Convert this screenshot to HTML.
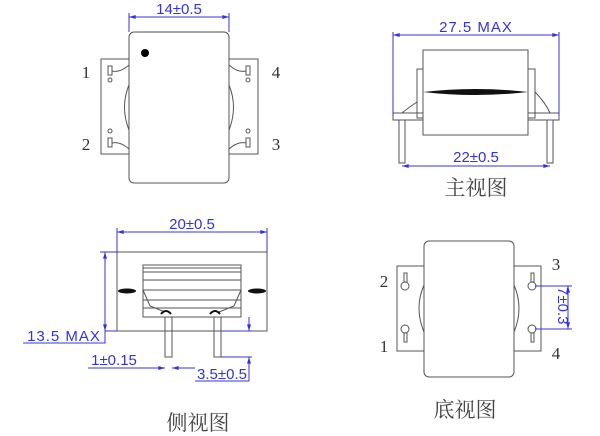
<!DOCTYPE html>
<html><head><meta charset="utf-8"><style>html,body{margin:0;padding:0;background:#fff}svg{display:block}</style></head>
<body>
<svg width="600" height="436" viewBox="0 0 600 436" xmlns="http://www.w3.org/2000/svg">
<defs>
<marker id="a" viewBox="0 0 10 6" refX="10" refY="3" markerWidth="10" markerHeight="4" orient="auto-start-reverse" markerUnits="userSpaceOnUse"><path d="M0,0L10,3L0,6Z" fill="#3333dd"/></marker>
</defs>
<g fill="none" stroke="#555" stroke-width="1">
<rect x="101" y="59" width="157" height="95"/>
<rect x="129" y="32" width="100" height="151" rx="5" fill="#fff"/>
<path d="M129,85 Q120,107 129,130 M229,85 Q238,107 229,130" />
<rect x="108" y="66" width="4" height="9"/><rect x="108" y="138" width="4" height="9"/>
<rect x="246" y="66" width="4" height="9"/><rect x="246" y="138" width="4" height="9"/>
<circle cx="110" cy="80" r="2"/><circle cx="110" cy="131" r="2"/><circle cx="248" cy="80" r="2"/><circle cx="248" cy="131" r="2"/>
<path d="M112,71 Q120,73 129,65 M112,143 Q120,141 129,149 M246,71 Q238,73 229,65 M246,143 Q238,141 229,149"/>
<rect x="417" y="69" width="6" height="49"/><rect x="528" y="69" width="7" height="49"/>
<rect x="393" y="113" width="30" height="7"/><rect x="528" y="113" width="31" height="7"/>
<rect x="399" y="120" width="6" height="43"/><rect x="547" y="120" width="6" height="43"/>
<rect x="423" y="50" width="105" height="85" fill="#fff"/>
<path d="M535,92 Q545,102 550,113 M417,102 Q408,108 402,113"/>
<rect x="117" y="252" width="150" height="79"/>
<rect x="143" y="265" width="98" height="52"/>
<path d="M143,268H241M143,272H241M143,280H241M143,290H241M143,300H241M143,308H241"/>
<path d="M143,290 L150,306 L165,312 M241,290 L234,306 L219,312"/>
<rect x="165" y="317" width="7" height="40"/><rect x="214" y="317" width="7" height="40"/>
<rect x="397" y="266" width="144" height="85"/>
<path d="M424,285 Q414,308 424,332 M514,285 Q524,308 514,332"/>
<rect x="424" y="241" width="90" height="136" rx="5" fill="#fff"/>
<circle cx="405" cy="286" r="4"/><circle cx="405" cy="329" r="4"/><circle cx="532" cy="286" r="4"/><circle cx="532" cy="329" r="4"/>
<rect x="404" y="273" width="3" height="9"/><rect x="404" y="333" width="3" height="9"/><rect x="531" y="273" width="3" height="9"/><rect x="531" y="333" width="3" height="9"/>
</g>
<circle cx="145" cy="53" r="4" fill="#000"/>
<path d="M423,92 Q475,86 528,92 Q475,98 423,92Z" fill="#111"/>
<ellipse cx="127" cy="291" rx="9" ry="2.5" fill="#111"/><ellipse cx="257" cy="291" rx="9" ry="2.5" fill="#111"/>
<path d="M161,314 q5,-6 10,0 M210,314 q5,-6 10,0" stroke="#111" stroke-width="2" fill="none"/>
<g stroke="#3333dd" stroke-width="1" fill="none">
<path d="M129,13V32M229,13V32"/><path d="M129,17H229" marker-start="url(#a)" marker-end="url(#a)"/>
<path d="M393,32V116M559,32V116"/><path d="M393,35H559" marker-start="url(#a)" marker-end="url(#a)"/>
<path d="M402,166H550" marker-start="url(#a)" marker-end="url(#a)"/>
<path d="M117,228V252M267,228V252"/><path d="M117,232H267" marker-start="url(#a)" marker-end="url(#a)"/>
<path d="M100,252H117"/><path d="M105,252V331" marker-start="url(#a)" marker-end="url(#a)"/>
<path d="M105,331H117"/>
<path d="M23,343H105V331"/>
<path d="M88,368H165M172,368H195"/><path d="M152,368H165" marker-end="url(#a)"/><path d="M185,368H172" marker-end="url(#a)"/>
<path d="M221,331H252M221,357H252"/><path d="M249,317V331" marker-end="url(#a)"/><path d="M249,381V357" marker-end="url(#a)"/>
<path d="M195,381H249"/>
<path d="M535,286H572M535,329H572"/><path d="M568,286V329" marker-start="url(#a)" marker-end="url(#a)"/>
</g>
<g font-family="'Liberation Sans',sans-serif" font-size="15" fill="#3333dd" text-anchor="middle">
<text x="179" y="14">14±0.5</text>
<text x="476" y="32" letter-spacing="1">27.5  MAX</text>
<text x="476" y="162">22±0.5</text>
<text x="192" y="229">20±0.5</text>
<text x="64" y="341" letter-spacing="1">13.5 MAX</text>
<text x="114" y="365">1±0.15</text>
<text x="222" y="379">3.5±0.5</text>
<text x="0" y="0" transform="translate(558,287) rotate(90)" text-anchor="start">7±0.3</text>
</g>
<g font-family="'Liberation Serif','Noto Serif CJK SC',serif" font-size="17" fill="#333" text-anchor="middle">
<text x="86" y="78">1</text><text x="86" y="150">2</text><text x="276" y="78">4</text><text x="276" y="150">3</text>
<text x="384" y="287">2</text><text x="384" y="352">1</text><text x="556" y="270">3</text><text x="556" y="359">4</text>
</g>
<g font-family="'Noto Serif CJK SC',serif" font-size="21" fill="#444" text-anchor="middle">
<text x="476" y="195">主视图</text>
<text x="198" y="430">侧视图</text>
<text x="465" y="417">底视图</text>
</g>
</svg>
</body></html>
